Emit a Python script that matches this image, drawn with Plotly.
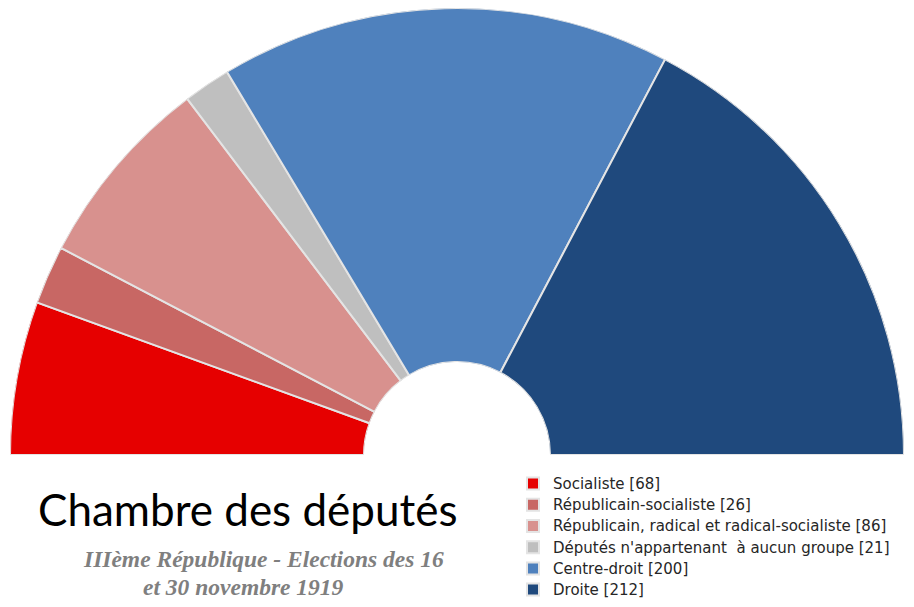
import plotly.graph_objects as go

parties = ["Socialiste", "Républicain-socialiste",
           "Républicain, radical et radical-socialiste",
           "Députés n'appartenant  à aucun groupe", "Centre-droit", "Droite"]
seats = [68, 26, 86, 21, 200, 212]
colors = ["#E60000", "#C86764", "#D8918E", "#BFBFBF", "#4F81BD", "#1F497D"]

W, H = 914, 607
total = sum(seats)

fig = go.Figure()
start = 0
for name, s, c in zip(parties, seats, colors):
    width = s / total * 180
    fig.add_trace(go.Barpolar(
        r=[1], theta=[start + width / 2], width=[width],
        base=0,
        name=f'<span style="font-size:15px">{name} [{s}]</span>',
        marker=dict(color=c, line=dict(color="#E4E4E4", width=2)),
        hoverinfo="name",
    ))
    start += width

# page is drawn with an 8px body margin; coordinates below are figure pixels
cx, bottom = 449, 447
R = bottom  # top of the half-disc at the top edge of the figure
dom_x = [(cx - R) / W, (cx + R) / W]
dom_y = [(H - bottom) / H, 1.0]
fig.update_layout(
    width=W, height=H,
    margin=dict(l=0, r=0, t=0, b=0),
    paper_bgcolor="white",
    polar=dict(
        domain=dict(x=dom_x, y=dom_y),
        sector=[0, 180],
        hole=93 / R,
        bgcolor="white",
        radialaxis=dict(visible=False, range=[0, 1]),
        angularaxis=dict(visible=False, direction="clockwise", rotation=180,
                         showgrid=False),
    ),
    showlegend=True,
    legend=dict(
        x=505 / W, y=(H - 460) / H, xanchor="left", yanchor="top",
        font=dict(family="DejaVu Sans", size=14, color="#262626"),
        bgcolor="rgba(0,0,0,0)", itemclick=False, tracegroupgap=0,
    ),
    annotations=[
        dict(text="Chambre des députés", x=239 / W, y=(H - 501) / H,
             xref="paper", yref="paper", showarrow=False,
             font=dict(family="Lato", size=44, color="black"),
             xanchor="center", yanchor="middle"),
        dict(text="<b><i>IIIème République - Elections des 16</i></b>",
             x=255.5 / W, y=(H - 551) / H, xref="paper", yref="paper",
             showarrow=False,
             font=dict(family="Liberation Serif", size=23.5, color="#7F7F7F"),
             xanchor="center", yanchor="middle"),
        dict(text="<b><i>et 30 novembre 1919</i></b>",
             x=235.5 / W, y=(H - 579) / H, xref="paper", yref="paper",
             showarrow=False,
             font=dict(family="Liberation Serif", size=23.5, color="#7F7F7F"),
             xanchor="center", yanchor="middle"),
    ],
)

fig.write_html("out.html")
